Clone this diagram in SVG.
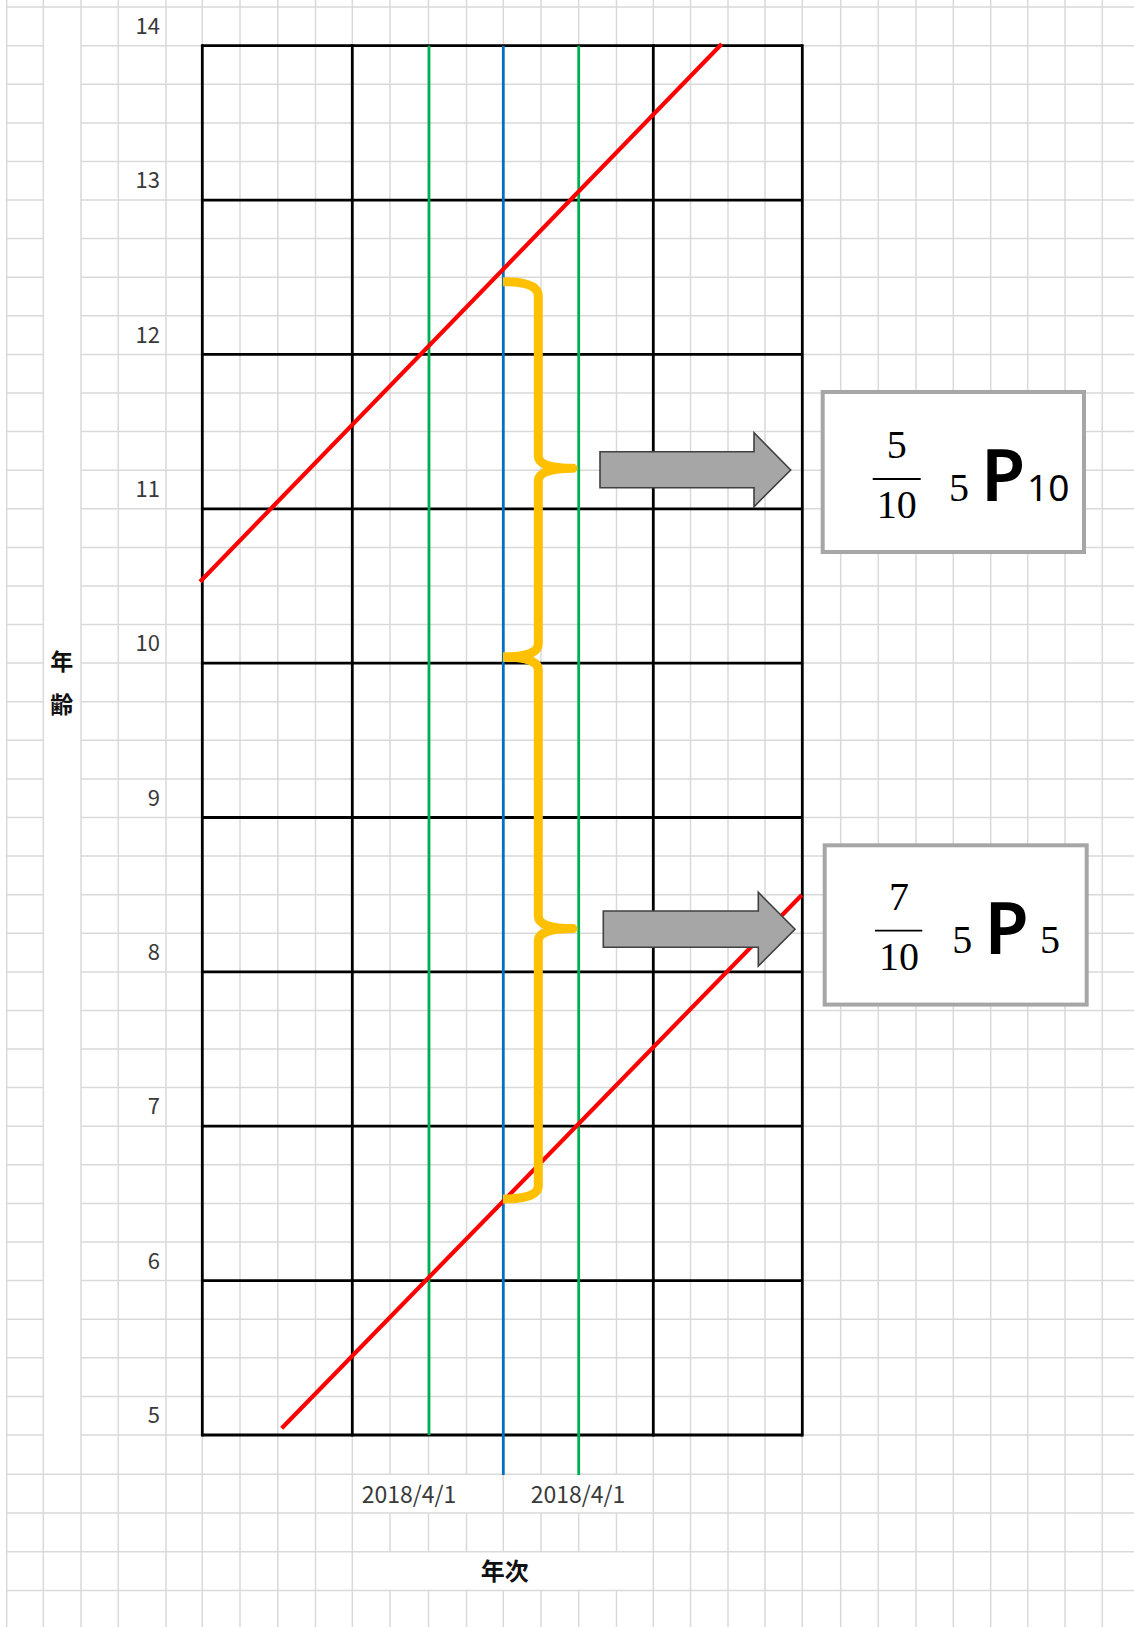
<svg xmlns="http://www.w3.org/2000/svg" width="1134" height="1627" viewBox="0 0 1134 1627">
<style>
.g{stroke:#d9d9d9;stroke-width:1.5;fill:none}
.k{stroke:#000;stroke-width:2.8;fill:none}
.grn{stroke:#00b050;stroke-width:2.8}
.blu{stroke:#0070c0;stroke-width:2.8}
.red{stroke:#ff0000;stroke-width:4.2;fill:none}
.brace{stroke:#ffc000;stroke-width:9;fill:none;stroke-linejoin:round}
.arrow{fill:#a6a6a6;stroke:#404040;stroke-width:1.6}
.box{fill:#fff;stroke:#a6a6a6;stroke-width:4}
.ax{font-family:"Noto Sans CJK JP","Noto Sans",sans-serif;font-size:22px;fill:#3a3a3a}
.ttl{font-family:"Noto Sans CJK JP",sans-serif;font-weight:bold;fill:#111}
.ser{font-family:"Liberation Serif","Times New Roman",serif;font-size:40px;fill:#000}
.pp{font-family:"Noto Sans","Noto Sans CJK JP",sans-serif;font-size:72px;font-weight:600;fill:#000}
.sub{font-family:"Noto Sans","Open Sans",sans-serif;font-size:37px;fill:#000}
</style>
<rect width="1134" height="1627" fill="#fff"/>
<g id="sheet-grid">
<path class="g" d="M6.7,0V1627M43.3,0V1627M81,0V1627M118.3,0V1627M166,0V1627M202.3,0V1627M240,0V1627M277.8,0V1627M315.5,0V1627M352.3,0V1627M690.5,0V1627M728,0V1627M765,0V1627M802.3,0V1627M840.7,0V1627M878.3,0V1627M916,0V1627M953.3,0V1627M990.7,0V1627M1027.7,0V1627M1065,0V1627M1102.3,0V1627M653.3,0V1627"/>
<path class="g" d="M390,0V1474.3M390,1512.9V1551.8M390,1590.4V1627M428.5,0V1474.3M428.5,1512.9V1551.8M428.5,1590.4V1627M466.5,0V1474.3M466.5,1512.9V1551.8M466.5,1590.4V1627M503.3,0V1551.8M503.3,1590.4V1627M541,0V1474.3M541,1512.9V1551.8M541,1590.4V1627M578.7,0V1474.3M578.7,1512.9V1551.8M578.7,1590.4V1627M616.5,0V1474.3M616.5,1512.9V1551.8M616.5,1590.4V1627"/>
<path class="g" d="M6.7,7.1H1134M6.7,1474.3H1134M6.7,1512.9H1134M6.7,1551.8H1134M6.7,1590.4H1134M6.7,1435H43.3M81,1435H1134M6.7,45.7H43.3M81,45.7H1134M6.7,84.3H43.3M81,84.3H1134M6.7,122.9H43.3M81,122.9H1134M6.7,161.5H43.3M81,161.5H1134M6.7,200.1H43.3M81,200.1H1134M6.7,238.6H43.3M81,238.6H1134M6.7,277.2H43.3M81,277.2H1134M6.7,315.8H43.3M81,315.8H1134M6.7,354.4H43.3M81,354.4H1134M6.7,393H43.3M81,393H1134M6.7,431.6H43.3M81,431.6H1134M6.7,470.2H43.3M81,470.2H1134M6.7,508.8H43.3M81,508.8H1134M6.7,547.4H43.3M81,547.4H1134M6.7,586H43.3M81,586H1134M6.7,624.6H43.3M81,624.6H1134M6.7,663.1H43.3M81,663.1H1134M6.7,701.7H43.3M81,701.7H1134M6.7,740.3H43.3M81,740.3H1134M6.7,778.9H43.3M81,778.9H1134M6.7,817.5H43.3M81,817.5H1134M6.7,856.1H43.3M81,856.1H1134M6.7,894.7H43.3M81,894.7H1134M6.7,933.3H43.3M81,933.3H1134M6.7,971.9H43.3M81,971.9H1134M6.7,1010.5H43.3M81,1010.5H1134M6.7,1049.1H43.3M81,1049.1H1134M6.7,1087.6H43.3M81,1087.6H1134M6.7,1126.2H43.3M81,1126.2H1134M6.7,1164.8H43.3M81,1164.8H1134M6.7,1203.4H43.3M81,1203.4H1134M6.7,1242H43.3M81,1242H1134M6.7,1280.6H43.3M81,1280.6H1134M6.7,1319.2H43.3M81,1319.2H1134M6.7,1357.8H43.3M81,1357.8H1134M6.7,1396.4H43.3M81,1396.4H1134"/>
</g>
<g id="chart-frame">
<path class="k" d="M202.3,45.7H802.3M202.3,200.1H802.3M202.3,354.4H802.3M202.3,508.8H802.3M202.3,663.1H802.3M202.3,817.5H802.3M202.3,971.9H802.3M202.3,1126.2H802.3M202.3,1280.6H802.3M202.3,1435H802.3"/>
<path class="k" d="M202.3,44.3V1436.4M352.3,44.3V1436.4M653.3,44.3V1436.4M802.3,44.3V1436.4"/>
</g>
<g id="date-lines">
<line class="grn" x1="429" y1="45.7" x2="429" y2="1435"/>
<line class="grn" x1="578.7" y1="45.7" x2="578.7" y2="1475"/>
<line class="blu" x1="503.3" y1="45.7" x2="503.3" y2="1475"/>
</g>
<g id="cohort-lines">
<line class="red" x1="200" y1="581.7" x2="721.7" y2="44"/>
<line class="red" x1="281.7" y1="1428.3" x2="801.7" y2="895"/>
</g>
<g id="braces">
<path class="brace" d="M503,281.7Q538.3,281.7 538.3,296L538.3,456Q538.3,468.3 573,468.3Q538.3,468.3 538.3,481L538.3,644Q538.3,657 503,657"/>
<path class="brace" d="M503,657Q538.3,657 538.3,670L538.3,916Q538.3,928.6 573,928.6Q538.3,928.6 538.3,941L538.3,1186Q538.3,1199 503,1199"/>
</g>
<g id="connectors">
<polygon class="arrow" points="600,451.7 754,451.7 754,432.7 790.7,470 754,506.7 754,487.7 600,487.7"/>
<polygon class="arrow" points="603.3,911 758.3,911 758.3,892.3 795,929.3 758.3,966 758.3,947.3 603.3,947.3"/>
</g>
<g id="box-upper">
<rect class="box" x="822.7" y="392" width="261.3" height="160"/>
<text class="ser" x="896.7" y="458.3" text-anchor="middle">5</text>
<line x1="872.7" y1="479" x2="920.7" y2="479" stroke="#000" stroke-width="1.8"/>
<text class="ser" x="896.7" y="518.3" text-anchor="middle">10</text>
<text class="ser" x="949" y="500.7">5</text>
<text class="pp" x="981" y="500.7">P</text>
<text class="sub" x="1027" y="500.7">10</text>
</g>
<g id="box-lower">
<rect class="box" x="824.7" y="845.3" width="262" height="159.3"/>
<text class="ser" x="899" y="910" text-anchor="middle">7</text>
<line x1="875" y1="930.7" x2="922.3" y2="930.7" stroke="#000" stroke-width="1.8"/>
<text class="ser" x="899" y="970" text-anchor="middle">10</text>
<text class="ser" x="952.3" y="952.7">5</text>
<text class="pp" x="984.5" y="954">P</text>
<text class="ser" x="1040" y="952.7">5</text>
</g>
<g id="y-axis-labels" class="ax" text-anchor="end">
<text x="160" y="34">14</text>
<text x="160" y="188.3">13</text>
<text x="160" y="342.6">12</text>
<text x="160" y="497">11</text>
<text x="160" y="651.3">10</text>
<text x="160" y="805.7">9</text>
<text x="160" y="960.1">8</text>
<text x="160" y="1114.4">7</text>
<text x="160" y="1268.8">6</text>
<text x="160" y="1423.2">5</text>
</g>
<g id="x-axis-labels" class="ax" text-anchor="middle" style="font-size:23px">
<text x="409" y="1502.7">2018/4/1</text>
<text x="578" y="1502.7">2018/4/1</text>
</g>
<g id="axis-titles" class="ttl" text-anchor="middle">
<text x="504.7" y="1579.8" style="font-size:24px">年次</text>
<text x="61.7" y="670.4" style="font-size:23px">年</text>
<text x="61.7" y="712.7" style="font-size:23px">齢</text>
</g>
</svg>
